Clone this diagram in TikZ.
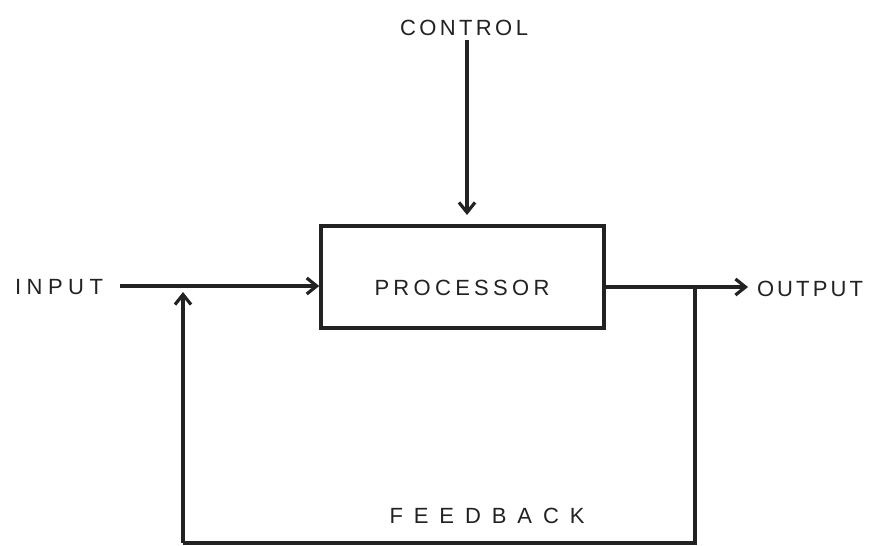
\documentclass[tikz,border=0pt]{standalone}
\usepackage{fontspec}
\setmainfont{Liberation Sans}
\usetikzlibrary{arrows.meta}
\newcommand{\spr}[2]{\makebox[#1][s]{#2}}
\definecolor{ink}{HTML}{222222}
\begin{document}
\begin{tikzpicture}[x=1pt,y=-1pt,
  lbl/.style={inner sep=0pt, font=\fontsize{22}{22}\selectfont, text=ink},
  wire/.style={draw=ink, line width=3.2pt},
  arr/.style={wire, -{Straight Barb[length=10pt,width=16pt,line width=3.2pt]}},
  procbox/.style={draw=ink, line width=3.4pt, minimum width=283pt, minimum height=102pt, inner sep=0pt}]
\useasboundingbox (0,0) rectangle (870,546);
\fill[white] (0,0) rectangle (870,546);

\node[procbox] (proc) at (462.5,277) {};
\node[lbl] (proctext) at (462,288) {\spr{175pt}{P\hfill R\hfill O\hfill C\hfill E\hfill S\hfill S\hfill O\hfill R}};
\node[lbl] (control) at (464,28) {\spr{128pt}{C\hfill O\hfill N\hfill T\hfill R\hfill O\hfill L}};
\node[lbl] (input) at (59,287) {\spr{88pt}{I\hfill N\hfill P\hfill U\hfill T}};
\node[lbl] (output) at (810,289) {\spr{106pt}{O\hfill U\hfill T\hfill P\hfill U\hfill T}};
\node[lbl] (feedback) at (487,516) {\spr{195pt}{F\hfill E\hfill E\hfill D\hfill B\hfill A\hfill C\hfill K}};

\coordinate (cstart) at (467,40);
\coordinate (ctip) at (467,215);
\coordinate (instart) at (120,286);
\coordinate (outtip) at (748,287);
\coordinate (fbsplit) at (695,287);
\coordinate (fbbr) at (695,543);
\coordinate (fbbl) at (183,543);
\coordinate (fbtip) at (183,292);

\draw[arr] (cstart) -- (ctip);
\draw[arr] (instart) -- (proc.west |- instart);
\draw[arr] (proc.east |- outtip) -- (outtip);
\draw[wire] (fbsplit) -- (fbbr) -- (fbbl);
\draw[arr] (fbbl) -- (fbtip);
\end{tikzpicture}
\end{document}
